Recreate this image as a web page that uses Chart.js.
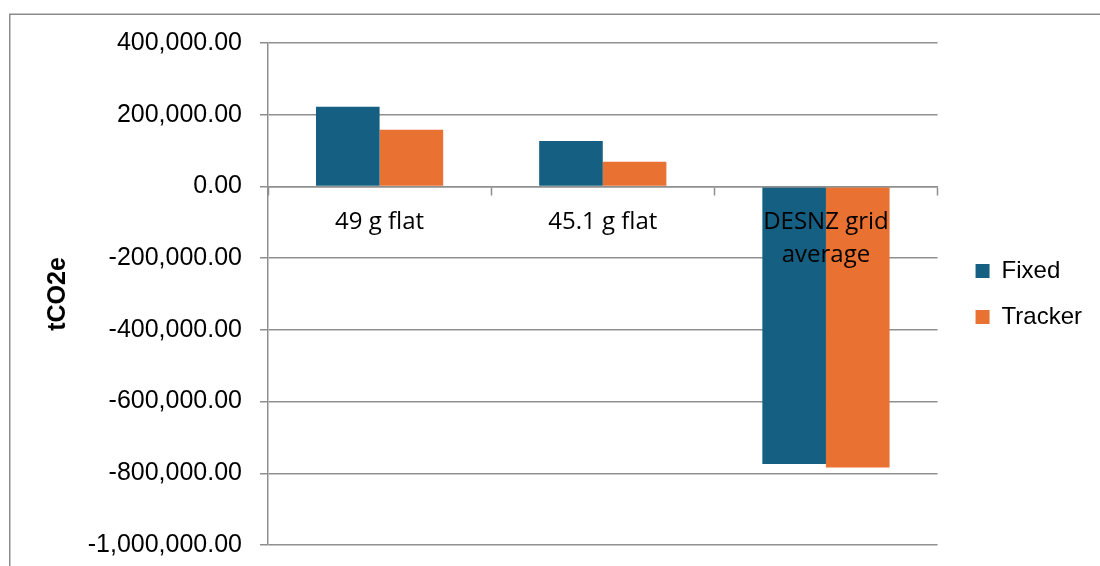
<!DOCTYPE html>
<html>
<head>
<meta charset="utf-8">
<script src="https://cdn.jsdelivr.net/npm/chart.js@4/dist/chart.umd.min.js"></script>
<style>
  html, body { margin: 0; padding: 0; background: #ffffff; }
  #wrap { width: 1100px; height: 566px; position: relative; }
</style>
</head>
<body>
<div id="wrap"><canvas id="c"></canvas></div>
<script>
// Emissions comparison (tCO2e) by emission-factor scenario
const categories = ['49 g flat', '45.1 g flat', ['DESNZ grid', 'average']];
const fixedValues = [222000, 126500, -774000];
const trackerValues = [158000, 69000, -784000];
const seriesNames = ['Fixed', 'Tracker'];
const yTicks = [400000, 200000, 0, -200000, -400000, -600000, -800000, -1000000];

const GRID = '#8f8f8f';
const LEGEND_GAP = 16;

// Light frame around the chart
const framePlugin = {
  id: 'frame',
  beforeDraw(chart) {
    const ctx = chart.ctx;
    ctx.save();
    ctx.strokeStyle = '#8c8c8c';
    ctx.lineWidth = 1.5;
    ctx.beginPath();
    ctx.moveTo(9.75, chart.height + 2);
    ctx.lineTo(9.75, 14.25);
    ctx.lineTo(chart.width + 2, 14.25);
    ctx.stroke();
    ctx.restore();
  }
};

// Keep some space between plot area and legend
const legendGapPlugin = {
  id: 'legendGap',
  afterInit(chart) {
    const lg = chart.legend;
    if (!lg) return;
    const fit = lg.fit;
    lg.fit = function () { fit.call(this); this.width += LEGEND_GAP; };
  },
  afterLayout(chart) {
    if (chart.legend) chart.legend.left += LEGEND_GAP;
  }
};

const fmt = v => v.toLocaleString('en-US', { minimumFractionDigits: 2, maximumFractionDigits: 2 });

new Chart(document.getElementById('c'), {
  type: 'bar',
  data: {
    labels: categories,
    datasets: [
      { label: seriesNames[0], data: fixedValues, backgroundColor: '#156082', borderWidth: 0 },
      { label: seriesNames[1], data: trackerValues, backgroundColor: '#E97132', borderWidth: 0 }
    ]
  },
  options: {
    responsive: true,
    maintainAspectRatio: false,
    animation: false,
    categoryPercentage: 0.57,
    barPercentage: 1.0,
    layout: { padding: { left: 10, top: 43, bottom: 21, right: 8 } },
    plugins: {
      tooltip: { enabled: false },
      legend: {
        position: 'right',
        labels: {
          boxWidth: 14,
          boxHeight: 14,
          padding: 22,
          color: '#000000',
          font: { family: 'Liberation Sans', size: 24 }
        }
      }
    },
    scales: {
      x: {
        position: { y: 0 },
        afterFit(scale) {
          // category axis sits on the zero line, so it takes no layout room
          scale.height = 0;
          scale.paddingTop = 0;
          scale.paddingBottom = 0;
        },
        grid: {
          drawOnChartArea: false,
          drawTicks: true,
          tickLength: 8,
          tickWidth: 1.5,
          tickColor: GRID,
          offset: true,
          z: 1
        },
        border: { display: true, color: GRID, width: 1.5, z: 1 },
        ticks: {
          z: 2,
          color: '#000000',
          padding: 11,
          font: { family: 'Open Sans', size: 24, lineHeight: 1.38 },
          maxRotation: 0,
          autoSkip: false
        }
      },
      y: {
        min: -1000000,
        max: 400000,
        afterFit(scale) {
          scale.width = 258;
          scale.paddingTop = 0;
          scale.paddingBottom = 0;
        },
        afterBuildTicks(scale) { scale.ticks = yTicks.map(v => ({ value: v })); },
        grid: {
          color: GRID,
          lineWidth: 1.5,
          drawTicks: true,
          tickLength: 8,
          tickColor: GRID
        },
        border: { display: true, color: GRID, width: 1.5 },
        ticks: {
          color: '#000000',
          padding: 18,
          font: { family: 'Liberation Sans', size: 25 },
          callback: v => fmt(v)
        },
        title: {
          display: true,
          text: 'tCO2e',
          color: '#000000',
          font: { family: 'Liberation Sans', size: 25, weight: 'bold' },
          padding: { top: 33, bottom: 0 }
        }
      }
    }
  },
  plugins: [framePlugin, legendGapPlugin]
});
</script>
</body>
</html>
